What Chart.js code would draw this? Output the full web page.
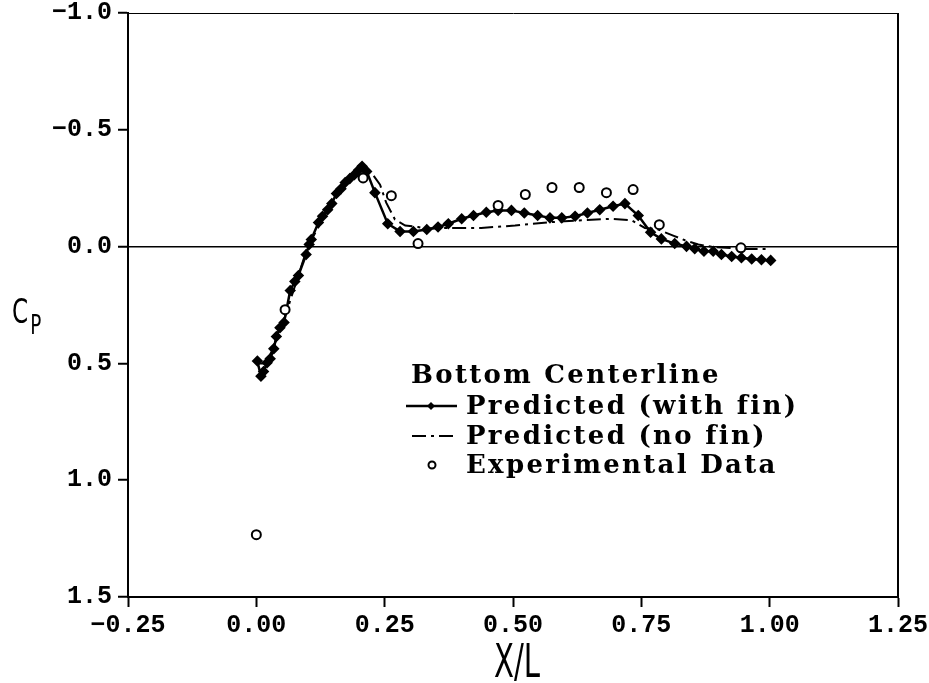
<!DOCTYPE html>
<html>
<head>
<meta charset="utf-8">
<script src="https://cdn.jsdelivr.net/npm/chart.js@4.4.1/dist/chart.umd.min.js"></script>
<style>
  html, body { margin: 0; padding: 0; background: #fff; }
  #cpChart { display: block; }
</style>
</head>
<body>
<canvas id="cpChart" width="929" height="683"></canvas>
<script>
// Bottom centerline pressure coefficient
const withFinX = [0.002, 0.009, 0.014, 0.021, 0.027, 0.034, 0.039, 0.046, 0.054, 0.066, 0.075, 0.082,
  0.097, 0.103, 0.107, 0.121, 0.129, 0.139, 0.147, 0.156, 0.165, 0.173, 0.182, 0.191, 0.199, 0.206,
  0.215, 0.231, 0.256, 0.28, 0.306, 0.332, 0.354, 0.374, 0.4, 0.423, 0.448, 0.471, 0.497, 0.522,
  0.548, 0.572, 0.595, 0.621, 0.645, 0.669, 0.695, 0.718, 0.744, 0.768, 0.789, 0.815, 0.838, 0.854,
  0.872, 0.89, 0.906, 0.926, 0.945, 0.965, 0.984, 1.002];
const withFinCp = [0.49, 0.555, 0.535, 0.497, 0.48, 0.437, 0.385, 0.347, 0.325, 0.188, 0.149, 0.124,
  0.034, -0.009, -0.03, -0.103, -0.13, -0.158, -0.184, -0.227, -0.248, -0.274, -0.291, -0.308, -0.327, -0.344,
  -0.322, -0.231, -0.098, -0.065, -0.065, -0.073, -0.084, -0.098, -0.119, -0.133, -0.147, -0.155, -0.155, -0.144,
  -0.133, -0.123, -0.123, -0.13, -0.144, -0.158, -0.173, -0.184, -0.133, -0.061, -0.033, -0.013, -0.001, 0.009,
  0.02, 0.02, 0.034, 0.042, 0.048, 0.053, 0.056, 0.059];

const noFinX = [0.002, 0.02, 0.05, 0.1, 0.15, 0.2, 0.224, 0.241, 0.253, 0.27, 0.29, 0.315, 0.33, 0.374,
  0.438, 0.504, 0.569, 0.634, 0.692, 0.731, 0.757, 0.783, 0.812, 0.835, 0.861, 0.887, 0.95, 1.0];
const noFinCp = [0.5, 0.5, 0.34, 0.0, -0.2, -0.33, -0.317, -0.265, -0.188, -0.116, -0.09, -0.084, -0.076, -0.08,
  -0.08, -0.09, -0.104, -0.113, -0.119, -0.113, -0.08, -0.073, -0.047, -0.027, -0.009, 0.001, 0.01, 0.01];

const expX = [0.0, 0.056, 0.208, 0.263, 0.315, 0.471, 0.524, 0.576, 0.629, 0.682, 0.734, 0.785, 0.944];
const expCp = [1.233, 0.27, -0.294, -0.218, -0.013, -0.176, -0.223, -0.253, -0.253, -0.231, -0.244, -0.094, 0.005];

const legendTitle = 'Bottom Centerline';
const seriesNames = ['Predicted (with fin)', 'Predicted (no fin)', 'Experimental Data'];

const toPoints = (xs, ys) => xs.map((x, i) => ({ x: x, y: ys[i] }));
const minus = v => (v < 0 ? '\u2212' : '');

const tickFont = { family: 'Liberation Mono', size: 25, weight: 'bold' };

// frame, axis titles and the in-plot legend
const decor = {
  id: 'decor',
  afterDraw(chart) {
    const { ctx, chartArea: a } = chart;
    ctx.save();
    ctx.strokeStyle = '#000';
    ctx.lineWidth = 1;
    ctx.beginPath();
    ctx.moveTo(a.left, a.top + 0.5);
    ctx.lineTo(a.right + 1, a.top + 0.5);
    ctx.stroke();
    ctx.lineWidth = 2;
    ctx.beginPath();
    ctx.moveTo(a.right, a.top);
    ctx.lineTo(a.right, a.bottom);
    ctx.stroke();

    // axis titles
    ctx.fillStyle = '#000';
    ctx.textBaseline = 'alphabetic';
    ctx.textAlign = 'center';
    ctx.save();
    ctx.translate((a.left + a.right) / 2 + 4, 677);
    ctx.scale(0.62, 1);
    ctx.font = '47px "DejaVu Sans"';
    ctx.fillText('X/L', 0, 0);
    ctx.restore();

    ctx.save();
    ctx.translate(12, 323);
    ctx.scale(0.68, 1);
    ctx.textAlign = 'left';
    ctx.font = '34px "DejaVu Sans"';
    ctx.fillText('C', 0, 0);
    ctx.font = '27px "DejaVu Sans"';
    ctx.fillText('P', 27, 11);
    ctx.restore();

    // legend
    const lx = 411, ty = 376, row = 30;
    ctx.textAlign = 'left';
    ctx.textBaseline = 'middle';
    ctx.font = '600 26px "DejaVu Serif"';
    ctx.letterSpacing = '2.3px';
    ctx.fillText(legendTitle, lx, ty);
    const sets = chart.data.datasets;
    seriesNames.forEach((name, i) => {
      const y = ty + row * (i + 1) - (i === 2 ? 1 : 0);
      ctx.fillText(name, 466, y + 1);
      const ds = sets[i];
      ctx.strokeStyle = '#000';
      ctx.lineWidth = ds.borderWidth;
      if (i === 0) {
        ctx.setLineDash([]);
        ctx.beginPath(); ctx.moveTo(406, y); ctx.lineTo(457, y); ctx.stroke();
        ctx.fillStyle = '#000';
        ctx.beginPath();
        ctx.moveTo(431, y - 4); ctx.lineTo(435, y); ctx.lineTo(431, y + 4); ctx.lineTo(427, y);
        ctx.closePath(); ctx.fill();
      } else if (i === 1) {
        ctx.setLineDash(ds.borderDash);
        ctx.beginPath(); ctx.moveTo(412, y); ctx.lineTo(457, y); ctx.stroke();
        ctx.setLineDash([]);
      } else {
        ctx.lineWidth = 2;
        ctx.fillStyle = '#fff';
        ctx.beginPath(); ctx.arc(432, y, 3.5, 0, Math.PI * 2); ctx.fill(); ctx.stroke();
        ctx.fillStyle = '#000';
      }
    });
    ctx.restore();
  }
};

new Chart(document.getElementById('cpChart').getContext('2d'), {
  type: 'scatter',
  data: {
    datasets: [{
      label: seriesNames[0],
      data: toPoints(withFinX, withFinCp),
      showLine: true,
      borderColor: '#000',
      backgroundColor: '#000',
      borderWidth: 2.5,
      pointStyle: 'rectRot',
      pointRadius: 4,
      order: 2
    }, {
      label: seriesNames[1],
      data: toPoints(noFinX, noFinCp),
      showLine: true,
      borderColor: '#000',
      borderWidth: 2,
      borderDash: [14, 5, 3, 5],
      pointRadius: 0,
      order: 3
    }, {
      label: seriesNames[2],
      data: toPoints(expX, expCp),
      borderColor: '#000',
      backgroundColor: '#fff',
      borderWidth: 2,
      pointStyle: 'circle',
      pointRadius: 4.5,
      order: 1
    }]
  },
  options: {
    responsive: false,
    animation: false,
    layout: { padding: { top: 13, right: 31, left: 0, bottom: 0 } },
    plugins: { legend: { display: false }, tooltip: { enabled: false } },
    scales: {
      x: {
        type: 'linear',
        min: -0.25,
        max: 1.25,
        afterFit: s => { s.height = 86; s.paddingLeft = 0; s.paddingRight = 0; },
        border: { color: '#000', width: 2 },
        grid: { drawOnChartArea: false, tickLength: 10, tickColor: '#000', tickWidth: 2 },
        ticks: {
          stepSize: 0.25,
          color: '#000',
          font: tickFont,
          padding: 4,
          maxRotation: 0,
          callback: v => minus(v) + Math.abs(v).toFixed(2)
        }
      },
      y: {
        type: 'linear',
        reverse: true,
        min: -1.0,
        max: 1.5,
        afterFit: s => { s.width = 128; s.paddingTop = 0; s.paddingBottom = 0; },
        border: { color: '#000', width: 2 },
        grid: {
          color: c => (c.tick && c.tick.value === 0 ? '#000' : 'rgba(0,0,0,0)'),
          lineWidth: 1.5,
          tickLength: 10,
          tickColor: '#000',
          tickWidth: 2
        },
        ticks: {
          stepSize: 0.5,
          color: '#000',
          font: tickFont,
          padding: 6,
          callback: v => minus(v) + Math.abs(v).toFixed(1)
        }
      }
    }
  },
  plugins: [decor]
});
</script>
</body>
</html>
